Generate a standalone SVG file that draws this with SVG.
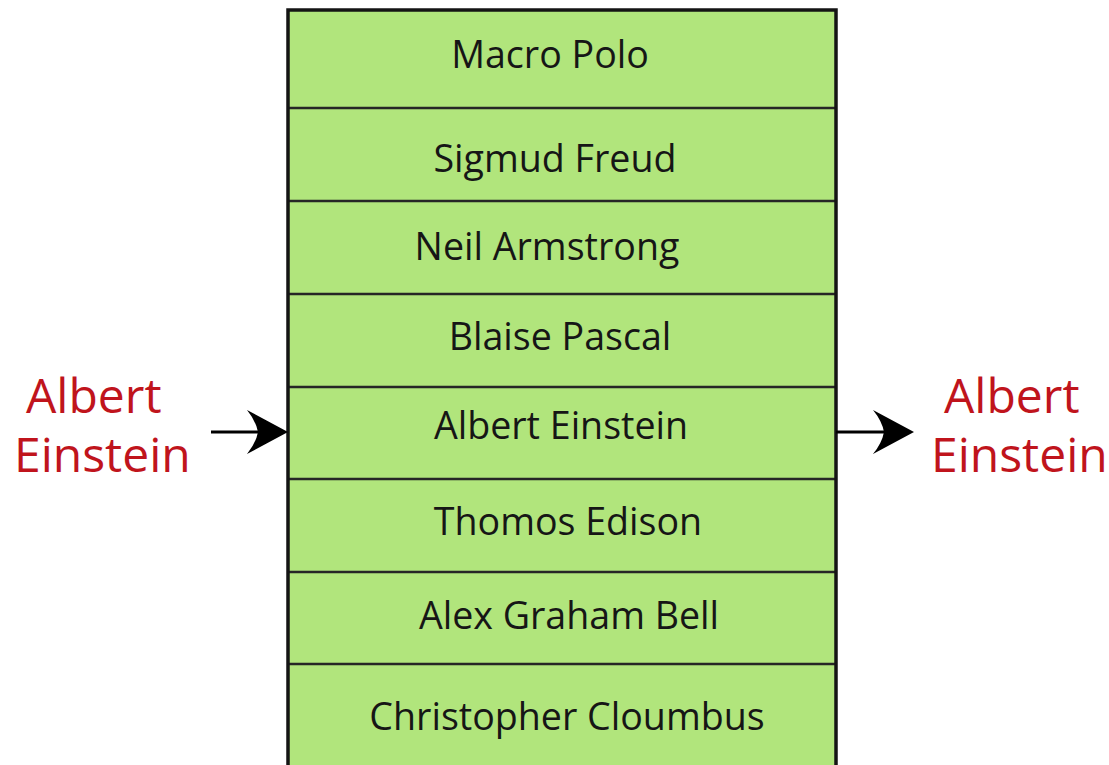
<svg xmlns="http://www.w3.org/2000/svg" width="1109" height="765" viewBox="0 0 1109 765">
  <style>
    .cell { fill: #b1e57c; }
    .sep { stroke: #262626; stroke-width: 2.5; }
    .frame { fill: none; stroke: #141414; stroke-width: 3.5; }
    .name { font-family: "Open Sans", "Liberation Sans", sans-serif; font-size: 37.6px; fill: #161616; text-anchor: middle; }
    .item { font-family: "Open Sans", "Liberation Sans", sans-serif; font-size: 48px; fill: #c0141c; }
    .line { stroke: #000; stroke-width: 3.2; fill: none; }
    .head { fill: #000; }
  </style>
  <rect width="1109" height="765" fill="#ffffff"/>

  <!-- stack of names -->
  <g id="stack">
    <rect class="cell" x="288" y="10" width="548" height="760"/>
    <line class="sep" x1="288" y1="108" x2="836" y2="108"/>
    <line class="sep" x1="288" y1="201" x2="836" y2="201"/>
    <line class="sep" x1="288" y1="294" x2="836" y2="294"/>
    <line class="sep" x1="288" y1="387" x2="836" y2="387"/>
    <line class="sep" x1="288" y1="479" x2="836" y2="479"/>
    <line class="sep" x1="288" y1="572" x2="836" y2="572"/>
    <line class="sep" x1="288" y1="664" x2="836" y2="664"/>
    <path class="frame" d="M288,770 V10 H836 V770"/>
  </g>
  <g id="row1"><text class="name" x="550" y="68">Macro Polo</text></g>
  <g id="row2"><text class="name" x="555" y="172">Sigmud Freud</text></g>
  <g id="row3"><text class="name" x="547" y="260">Neil Armstrong</text></g>
  <g id="row4"><text class="name" x="560" y="350">Blaise Pascal</text></g>
  <g id="row5"><text class="name" x="561" y="439">Albert Einstein</text></g>
  <g id="row6"><text class="name" x="568" y="535">Thomos Edison</text></g>
  <g id="row7"><text class="name" x="569" y="629">Alex Graham Bell</text></g>
  <g id="row8"><text class="name" x="567" y="730">Christopher Cloumbus</text></g>

  <!-- incoming and outgoing item -->
  <g id="item-in">
    <text class="item" x="26" y="413">Albert</text>
    <text class="item" x="14" y="472">Einstein</text>
  </g>
  <g id="item-out">
    <text class="item" x="944" y="413">Albert</text>
    <text class="item" x="931" y="472">Einstein</text>
  </g>

  <g id="connectors">
    <line class="line" x1="211" y1="432" x2="262" y2="432"/>
    <path class="head" d="M288,432 L247,410 Q256,421 258,432 Q256,443 247,454 Z"/>
    <line class="line" x1="836" y1="432" x2="886" y2="432"/>
    <path class="head" d="M914,432 L873,410 Q882,421 884,432 Q882,443 873,454 Z"/>
  </g>
</svg>
